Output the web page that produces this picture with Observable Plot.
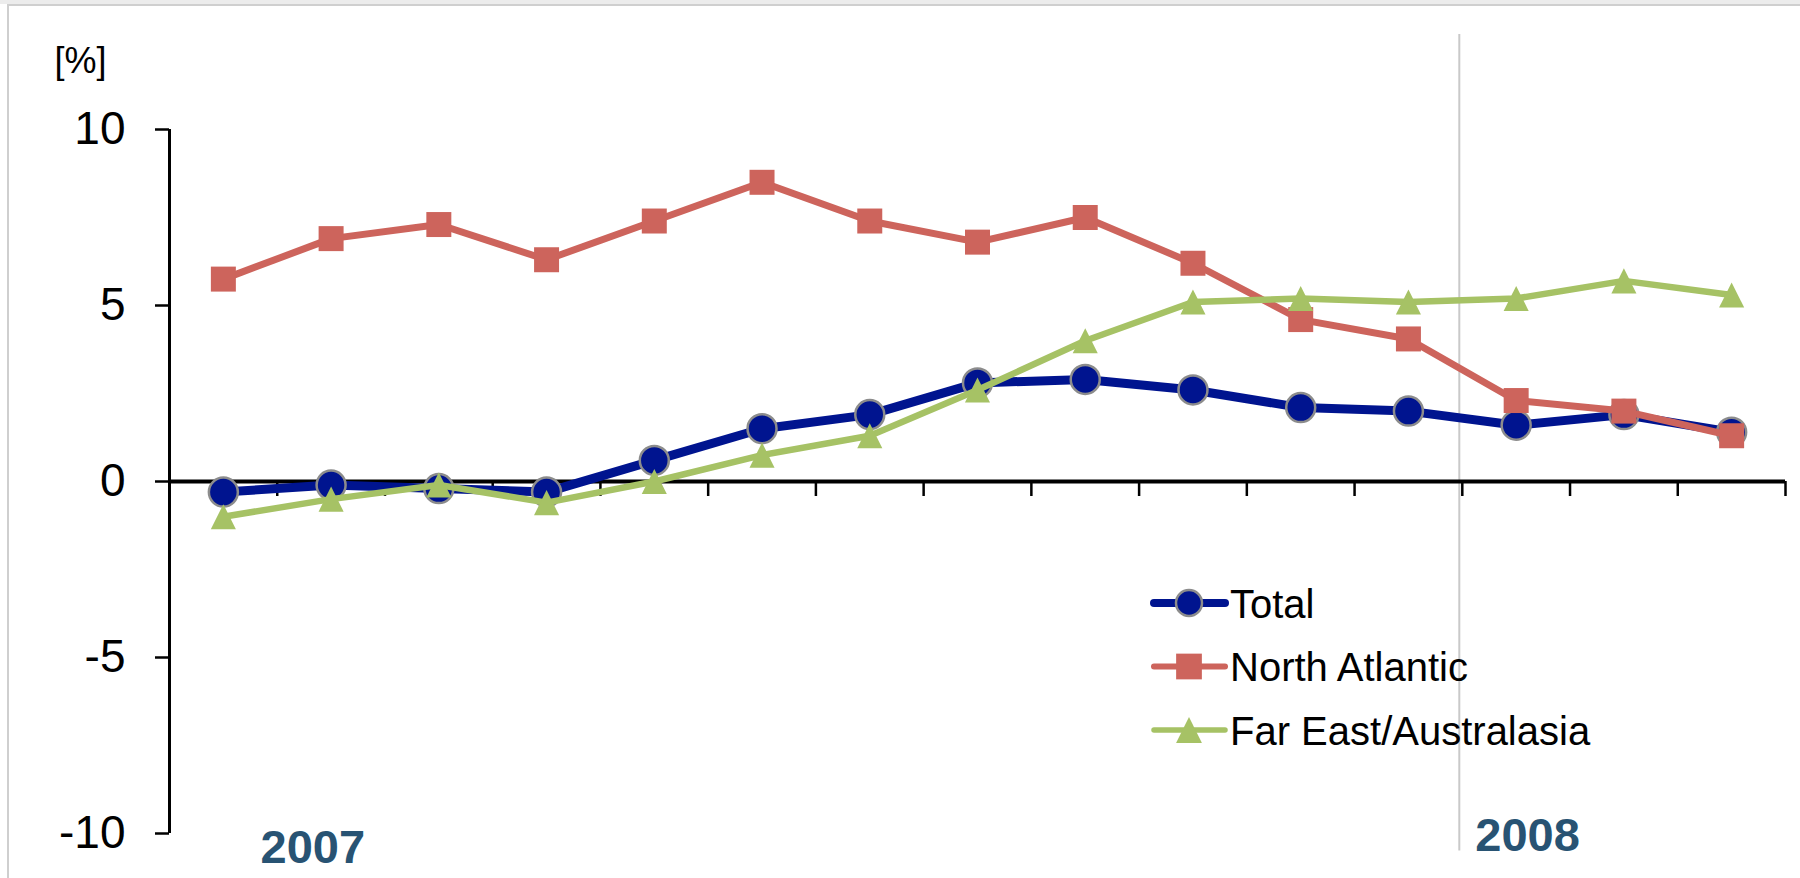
<!DOCTYPE html>
<html>
<head>
<meta charset="utf-8">
<script src="https://cdn.jsdelivr.net/npm/d3@7"></script>
<script src="https://cdn.jsdelivr.net/npm/@observablehq/plot@0.6"></script>
<style>
  html, body { margin: 0; padding: 0; background: #fff; }
  #wrap { position: relative; width: 1800px; height: 878px; overflow: hidden; font-family: "Liberation Sans", Arial, sans-serif; }
  #topband { position: absolute; left: 0; top: 0; width: 1800px; height: 4px; background: #ececec; }
  #frame { position: absolute; left: 7px; top: 4px; width: 1800px; height: 900px; border-top: 2px solid #cfcfcf; border-left: 2px solid #cfcfcf; pointer-events: none; }
  #legend { position: absolute; left: 1140px; top: 570px; }
</style>
</head>
<body>
<div id="wrap">
  <div id="chart"></div>
  <div id="topband"></div>
  <div id="frame"></div>
  <svg id="legend" width="660" height="200"></svg>
</div>
<script>
// Monthly year-on-year change, January 2007 – March 2008
const months = ["2007-01","2007-02","2007-03","2007-04","2007-05","2007-06","2007-07","2007-08",
                "2007-09","2007-10","2007-11","2007-12","2008-01","2008-02","2008-03"];
const total         = [-0.3, -0.1, -0.2, -0.3, 0.6, 1.5, 1.9, 2.8, 2.9, 2.6, 2.1, 2.0, 1.6, 1.9, 1.4];
const northAtlantic = [5.75, 6.9, 7.3, 6.3, 7.4, 8.5, 7.4, 6.8, 7.5, 6.2, 4.6, 4.05, 2.3, 2.0, 1.3];
const farEast       = [-1.0, -0.5, -0.1, -0.6, 0.0, 0.75, 1.3, 2.6, 4.0, 5.1, 5.2, 5.1, 5.2, 5.7, 5.3];
const seriesNames   = ["Total", "North Atlantic", "Far East/Australasia"];
const yTicks        = [-10, -5, 0, 5, 10];
const yearLabels    = ["2007", "2008"];
const unitLabel     = "[%]";

// Wide triangle marker (as wide as it is tall)
const triangleWide = {
  draw(context, size) {
    const w = Math.sqrt(size * 2);
    context.moveTo(0, -w / 2);
    context.lineTo(w / 2, w / 2);
    context.lineTo(-w / 2, w / 2);
    context.closePath();
  }
};

const series = [
  {name: seriesNames[0], values: total,         color: "#00148f", width: 9,   symbol: "circle",  r: 14.5, stroke: "#8c8c8c", strokeWidth: 2.5},
  {name: seriesNames[1], values: northAtlantic, color: "#cd645c", width: 7,   symbol: "square",  r: 14.1, stroke: "none",    strokeWidth: 0},
  {name: seriesNames[2], values: farEast,       color: "#a6c265", width: 6.5, symbol: triangleWide, r: 10, stroke: "none",   strokeWidth: 0}
];

const W = 1800, H = 878;
const margin = {top: 129, right: 15, bottom: 45, left: 169};
const yDomain = [d3.min(yTicks), d3.max(yTicks)];
const pxPerUnit = (H - margin.top - margin.bottom) / (yDomain[1] - yDomain[0]);
const tickDepth = 15 / pxPerUnit;            // x-axis tick length below the zero line
const yearStart = y => months.findIndex(m => m.startsWith(y));
const font = '"Liberation Sans", Arial, sans-serif';
const yearColor = "#285373";

const seriesMarks = series.flatMap(s => {
  const pts = s.values.map((v, i) => ({i, v}));
  return [
    Plot.line(pts, {x: d => d.i + 0.5, y: "v", stroke: s.color, strokeWidth: s.width, strokeLinejoin: "round"}),
    Plot.dot(pts, {x: d => d.i + 0.5, y: "v", symbol: s.symbol, r: s.r, fill: s.color, stroke: s.stroke, strokeWidth: s.strokeWidth})
  ];
});

const chart = Plot.plot({
  width: W,
  height: H,
  marginTop: margin.top,
  marginRight: margin.right,
  marginBottom: margin.bottom,
  marginLeft: margin.left,
  style: {fontFamily: font, background: "transparent", color: "black"},
  x: {domain: [0, months.length], axis: null},
  y: {domain: yDomain, label: null},
  marks: [
    // separator between the two years
    Plot.ruleX([yearStart(yearLabels[1])], {x: d => d, y1: -10.5, y2: 12.7, stroke: "#c9c9c9", strokeWidth: 2, dx: -3}),
    Plot.axisY({ticks: yTicks, tickSize: 14, tickPadding: 30, fontSize: 46, strokeWidth: 2.5,
                tickFormat: d => String(d), label: null}),
    Plot.ruleX([0], {stroke: "black", strokeWidth: 3}),
    Plot.ruleX(d3.range(months.length + 1), {x: d => d, y1: 0, y2: -tickDepth, stroke: "black", strokeWidth: 2.5}),
    Plot.ruleY([0], {stroke: "black", strokeWidth: 4}),
    Plot.text([unitLabel], {frameAnchor: "top-left", text: d => d, dx: -115, dy: -57,
                            textAnchor: "start", lineAnchor: "bottom", fontSize: 36, fill: "black"}),
    Plot.text([yearLabels[0]], {x: d => yearStart(d), y: yDomain[0], text: d => d, dx: 91, dy: 29,
                                textAnchor: "start", lineAnchor: "bottom", fontSize: 47, fontWeight: "bold", fill: yearColor}),
    Plot.text([yearLabels[1]], {x: d => yearStart(d), y: yDomain[0], text: d => d, dx: 13, dy: 17,
                                textAnchor: "start", lineAnchor: "bottom", fontSize: 47, fontWeight: "bold", fill: yearColor}),
    ...seriesMarks
  ]
});
document.getElementById("chart").appendChild(chart);

// Legend: line + marker swatch and series name
const legend = d3.select("#legend");
const rowY = i => 33 + i * 63.5;
series.forEach((s, i) => {
  const g = legend.append("g").attr("transform", `translate(0,${rowY(i)})`);
  g.append("line").attr("x1", 14).attr("x2", 85).attr("y1", 0).attr("y2", 0)
    .attr("stroke", s.color).attr("stroke-width", s.width - 1).attr("stroke-linecap", "round");
  const sym = typeof s.symbol === "string"
    ? (s.symbol === "circle" ? d3.symbolCircle : d3.symbolSquare)
    : s.symbol;
  const r = s.symbol === "circle" ? 13 : s.r * 1.03;
  g.append("path").attr("transform", "translate(49,0)")
    .attr("d", d3.symbol(sym, Math.PI * r * r)())
    .attr("fill", s.color).attr("stroke", s.stroke).attr("stroke-width", s.strokeWidth);
  g.append("text").attr("x", 90).attr("y", 14.5)
    .attr("font-family", font).attr("font-size", 40).attr("fill", "black")
    .text(s.name);
});
</script>
</body>
</html>
